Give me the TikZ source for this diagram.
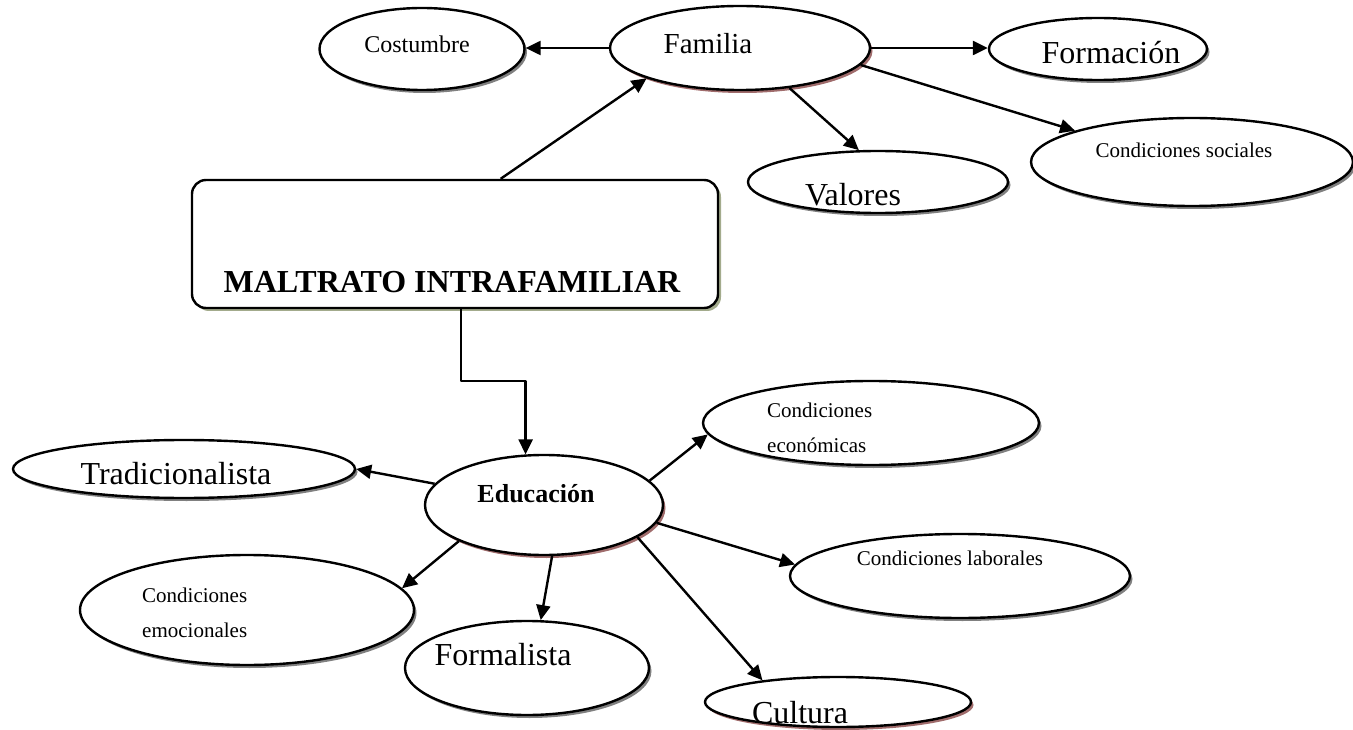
\documentclass[tikz,border=0pt]{standalone}
\usepackage{fontspec}
\setmainfont{Liberation Serif}
\usetikzlibrary{arrows.meta,shapes.geometric,shadows}
\definecolor{sombragris}{RGB}{128,128,128}
\definecolor{sombrarosa}{RGB}{160,108,108}
\definecolor{sombraoliva}{RGB}{163,171,140}

\tikzset{
  globo/.style={ellipse,draw,line width=2.4pt,fill=white,inner sep=0pt,
    drop shadow={shadow xshift=2.5pt,shadow yshift=-3pt,fill=#1,opacity=1}},
  globo/.default=sombragris,
  caja/.style={rectangle,rounded corners=14pt,draw,line width=2.4pt,fill=white,inner sep=0pt,
    drop shadow={shadow xshift=3pt,shadow yshift=-3pt,fill=sombraoliva,opacity=1}},
  grande/.style={inner sep=0pt,font=\fontsize{32}{36}\selectfont},
  chico/.style={inner sep=0pt,align=left,font=\fontsize{21}{35}\selectfont},
  flecha/.style={->,line width=2.4pt}
}

\begin{document}
\begin{tikzpicture}[line join=round,>={Triangle[length=15pt,width=14pt]},x=1pt,y=-1pt]
\useasboundingbox (0,0) rectangle (1353,730);
% ovalos de arriba
\node[globo,minimum width=205,minimum height=82] (costumbre) at (422,49) {};
\node[globo=sombrarosa,minimum width=260,minimum height=84] (familia) at (740,48) {};
\node[globo,minimum width=218,minimum height=62] (formacion) at (1098,49) {};
\node[globo,minimum width=322,minimum height=88] (sociales) at (1192,162) {};
\node[globo,minimum width=260,minimum height=62] (valores) at (878,182) {};
\node[inner sep=0pt,font=\fontsize{24}{28}\selectfont] (tcostumbre) at (417,44) {Costumbre};
\node[inner sep=0pt,font=\fontsize{29}{32}\selectfont] (tfamilia) at (708,44) {Familia};
\node[grande] (tformacion) at (1111,53) {Formación};
\node[chico] (tsociales) at (1184,150) {Condiciones sociales};
\node[grande] (tvalores) at (853,195) {Valores};
% caja central
\node[caja,minimum width=526,minimum height=128] (maltrato) at (455,244) {};
\node[inner sep=0pt,font=\fontsize{32}{36}\selectfont\bfseries] (tmaltrato) at (452,282) {MALTRATO INTRAFAMILIAR};
% ovalos de abajo
\node[globo=sombrarosa,minimum width=238,minimum height=100] (educacion) at (544,505) {};
\node[globo,minimum width=342,minimum height=58] (tradicional) at (184,469) {};
\node[globo,minimum width=334,minimum height=110] (emocionales) at (247,610) {};
\node[globo,minimum width=244,minimum height=94] (formalista) at (527,668) {};
\node[globo=sombrarosa,minimum width=266,minimum height=50] (cultura) at (838,702) {};
\node[globo,minimum width=340,minimum height=84] (laborales) at (960,576) {};
\node[globo,minimum width=336,minimum height=84] (economicas) at (871,423) {};
\node[inner sep=0pt,font=\fontsize{26}{30}\selectfont\bfseries] (teducacion) at (536,494) {Educación};
\node[grande] (ttradicional) at (176,474) {Tradicionalista};
\node[chico,anchor=west] (temocionales) at (142,613) {Condiciones\\emocionales};
\node[grande] (tformalista) at (503,655) {Formalista};
\node[grande] (tcultura) at (800,713) {Cultura};
\node[chico] (tlaborales) at (950,558) {Condiciones laborales};
\node[chico,anchor=west] (teconomicas) at (767,428) {Condiciones\\económicas};
% flechas
\draw[flecha] (maltrato.55) -- (familia.198);
\draw[flecha] (familia.west) -- (familia.west -| costumbre.east);
\draw[flecha] (familia.east) -- (familia.east -| formacion.west);
\draw[flecha] (familia.-39) -- (valores.121);
\draw[flecha] (familia.-8) -- (sociales.165);
\draw[flecha] ([xshift=6pt]maltrato.south) -- ++(0,72) -| (educacion.110);
\draw[flecha] (educacion.169) -- (tradicional.east);
\draw[flecha] (educacion.203) -- (emocionales.8);
\draw[flecha] (educacion.-81) -- (formalista.74);
\draw[flecha] (educacion.-19) -- (cultura.164);
\draw[flecha] (educacion.-9) -- (laborales.176);
\draw[flecha] (educacion.13) -- (economicas.184);
\end{tikzpicture}
\end{document}
